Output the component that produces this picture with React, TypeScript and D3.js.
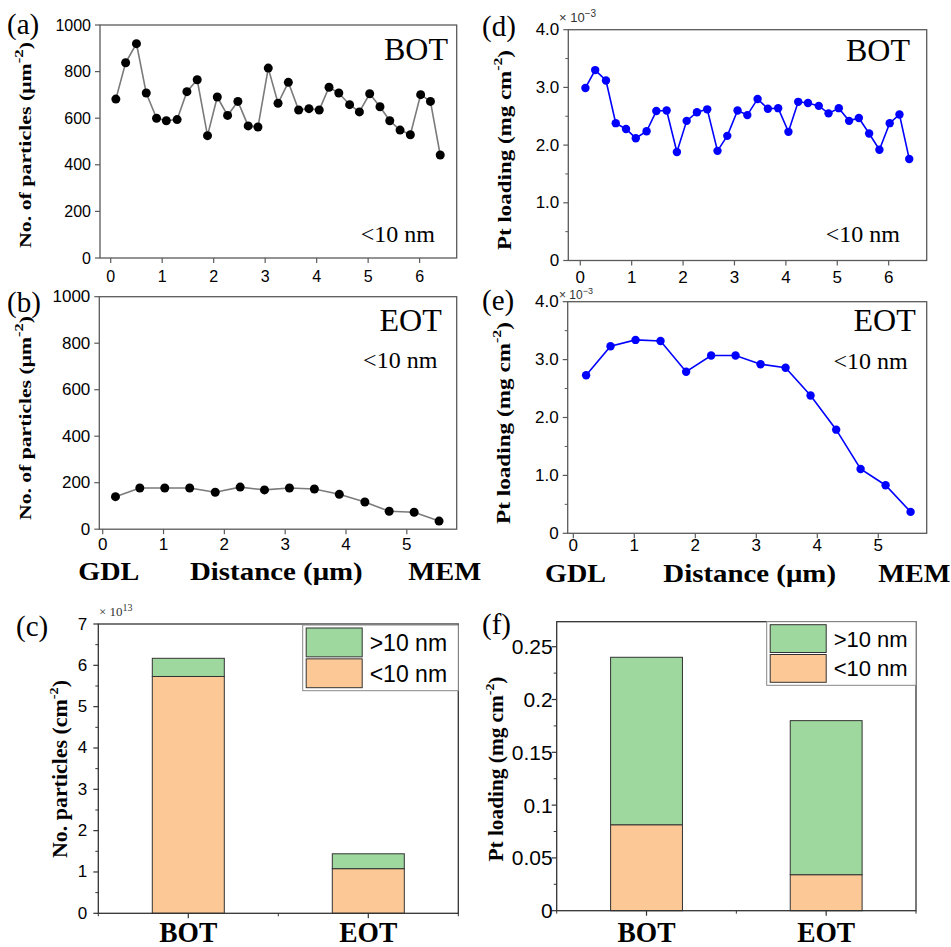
import React from 'react';
import * as d3 from 'd3';

// distances (µm) of the measurement points
const botDistance = [0.10, 0.29, 0.50, 0.69, 0.89, 1.08, 1.29, 1.48, 1.68, 1.88, 2.07, 2.27, 2.47, 2.67, 2.86, 3.06, 3.25, 3.45, 3.65, 3.85, 4.05, 4.24, 4.43, 4.64, 4.83, 5.03, 5.23, 5.42, 5.62, 5.82, 6.02, 6.21, 6.40];
const eotDistance = [0.21, 0.61, 1.02, 1.43, 1.85, 2.26, 2.66, 3.07, 3.48, 3.89, 4.31, 4.71, 5.12, 5.53];

// no. of particles (µm^-2), <10 nm
const botParticles = [682, 838, 920, 708, 600, 589, 594, 714, 765, 525, 691, 612, 672, 567, 562, 815, 664, 754, 635, 641, 635, 733, 708, 658, 627, 705, 649, 589, 549, 529, 701, 672, 442];
const eotParticles = [140, 177, 177, 177, 159, 181, 169, 177, 173, 150, 117, 77, 73, 35];

// Pt loading (x10^-3 mg cm^-2), <10 nm
const botLoading = [2.99, 3.30, 3.12, 2.38, 2.28, 2.12, 2.24, 2.59, 2.60, 1.88, 2.42, 2.57, 2.62, 1.90, 2.16, 2.60, 2.52, 2.80, 2.63, 2.64, 2.23, 2.75, 2.73, 2.68, 2.55, 2.64, 2.42, 2.47, 2.20, 1.92, 2.38, 2.53, 1.76];
const eotLoading = [2.73, 3.23, 3.34, 3.32, 2.79, 3.07, 3.07, 2.92, 2.86, 2.38, 1.79, 1.11, 0.83, 0.37];

// totals per sample
const samples = ['BOT', 'EOT'];
const sizeKeys = ['small', 'large'];
const sizeLabels = { small: '<10 nm', large: '>10 nm' };
const particlesSmall = [5.73, 1.08]; // x10^13 cm^-2
const particlesLarge = [0.44, 0.36];
const loadingSmall = [0.0814, 0.0341]; // mg cm^-2
const loadingLarge = [0.1586, 0.1459];

const sizeColor = { small: '#fcc896', large: '#9ed89e' };

const SANS = '"Liberation Sans", Arial, sans-serif';
const SERIF = '"Liberation Serif", "Times New Roman", serif';

type Frame = { left: number; right: number; top: number; bottom: number };

function VTitle({ x, y, len, size, text }: { x: number; y: number; len: number; size: number; text: React.ReactNode }) {
  return (
    <text transform={`translate(${x},${y}) rotate(-90)`} textAnchor="middle" dominantBaseline="central"
      fontFamily={SERIF} fontWeight="bold" fontSize={size} textLength={len} lengthAdjust="spacingAndGlyphs">
      {text}
    </text>
  );
}

function LinePanel(props: {
  f: Frame; xDomain: [number, number]; yDomain: [number, number];
  xs: number[]; ys: number[]; yTicks: number[]; yMinor: number[]; xTicks: number[];
  fmt: (d: number) => string; line: string; dot: string; lineWidth: number; r: number;
  fontSize: number; labelGap: number; xLabelY: number;
}) {
  const { f } = props;
  const x = d3.scaleLinear().domain(props.xDomain).range([f.left, f.right]);
  const y = d3.scaleLinear().domain(props.yDomain).range([f.bottom, f.top]);
  const path = d3.line<number>().x((d, i) => x(props.xs[i])).y(d => y(d))(props.ys) || '';
  const axis = '#5a5a5a';
  return (
    <g>
      <rect x={f.left} y={f.top} width={f.right - f.left} height={f.bottom - f.top} fill="none" stroke={axis} strokeWidth={1.3} />
      {props.yTicks.map(t => (
        <g key={'y' + t}>
          <line x1={f.left - 5} x2={f.left} y1={y(t)} y2={y(t)} stroke={axis} strokeWidth={1.2} />
          <text x={f.left - props.labelGap} y={y(t)} textAnchor="end" dominantBaseline="central" fontFamily={SANS} fontSize={props.fontSize}>{props.fmt(t)}</text>
        </g>
      ))}
      {props.yMinor.map(t => (
        <line key={'m' + t} x1={f.left - 3} x2={f.left} y1={y(t)} y2={y(t)} stroke={axis} strokeWidth={1} />
      ))}
      {props.xTicks.map(t => (
        <g key={'x' + t}>
          <line x1={x(t)} x2={x(t)} y1={f.bottom} y2={f.bottom + 5} stroke={axis} strokeWidth={1.2} />
          <text x={x(t)} y={props.xLabelY} textAnchor="middle" dominantBaseline="central" fontFamily={SANS} fontSize={props.fontSize}>{t}</text>
        </g>
      ))}
      <path d={path} fill="none" stroke={props.line} strokeWidth={props.lineWidth} />
      {props.ys.map((d, i) => (
        <circle key={i} cx={x(props.xs[i])} cy={y(d)} r={props.r} fill={props.dot} />
      ))}
    </g>
  );
}

function BarPanel(props: {
  f: Frame; yMax: number; small: number[]; large: number[]; yTicks: number[]; yMinor: number[];
  fmt: (d: number) => string; fontSize: number; labelGap: number;
  legend: { x: number; y: number; w: number; h: number; fontSize: number };
}) {
  const { f, legend } = props;
  const x = d3.scaleBand<string>().domain(samples).range([f.left, f.right]).padding(0);
  const y = d3.scaleLinear().domain([0, props.yMax]).range([f.bottom, f.top]);
  const rows = samples.map((s, i) => ({ sample: s, small: props.small[i], large: props.large[i] }));
  const series = d3.stack<any>().keys(sizeKeys)(rows);
  const bw = x.bandwidth() * 0.4;
  const axis = '#333';
  const bandEdges = [f.left, f.left + x.bandwidth(), f.right];
  const sw = 56;
  return (
    <g>
      {series.map(s => s.map((d, i) => (
        <rect key={s.key + i} x={(x(samples[i]) as number) + x.bandwidth() / 2 - bw / 2} y={y(d[1])}
          width={bw} height={y(d[0]) - y(d[1])} fill={(sizeColor as any)[s.key]} stroke="#333" strokeWidth={1} />
      )))}
      <rect x={f.left} y={f.top} width={f.right - f.left} height={f.bottom - f.top} fill="none" stroke={axis} strokeWidth={1.3} />
      {props.yTicks.map(t => (
        <g key={'y' + t}>
          <line x1={f.left - 5} x2={f.left} y1={y(t)} y2={y(t)} stroke={axis} strokeWidth={1.2} />
          <text x={f.left - props.labelGap} y={y(t)} textAnchor="end" dominantBaseline="central" fontFamily={SANS} fontSize={props.fontSize}>{props.fmt(t)}</text>
        </g>
      ))}
      {props.yMinor.map(t => (
        <line key={'m' + t} x1={f.left - 3} x2={f.left} y1={y(t)} y2={y(t)} stroke={axis} strokeWidth={1} />
      ))}
      {samples.map(s => (
        <g key={s}>
          <line x1={(x(s) as number) + x.bandwidth() / 2} x2={(x(s) as number) + x.bandwidth() / 2} y1={f.bottom} y2={f.bottom + 5} stroke={axis} strokeWidth={1.2} />
          <text x={(x(s) as number) + x.bandwidth() / 2} y={942} textAnchor="middle" fontFamily={SERIF} fontWeight="bold"
            fontSize={29} textLength={58} lengthAdjust="spacingAndGlyphs">{s}</text>
        </g>
      ))}
      {bandEdges.map((e, i) => (
        <line key={'b' + i} x1={e} x2={e} y1={f.bottom} y2={f.bottom + 3} stroke={axis} strokeWidth={1} />
      ))}
      <rect x={legend.x} y={legend.y} width={legend.w} height={legend.h} fill="white" stroke="#888" strokeWidth={1} />
      {['large', 'small'].map((k, i) => {
        const rowH = (legend.h - 6) / 2;
        const yy = legend.y + 3 + i * (rowH + 1);
        return (
          <g key={k}>
            <rect x={legend.x + 3.5} y={yy} width={sw} height={rowH - 1} fill={(sizeColor as any)[k]} stroke="#333" strokeWidth={1} />
            <text x={legend.x + sw + 11} y={yy + rowH / 2} dominantBaseline="central" fontFamily={SANS} fontSize={legend.fontSize}>{(sizeLabels as any)[k]}</text>
          </g>
        );
      })}
    </g>
  );
}

const panelLabel = (x: number, y: number, t: string) => (
  <text x={x} y={y} fontFamily={SERIF} fontSize={29}>{t}</text>
);

export default function App() {
  const fA = { left: 100, right: 456.7, top: 25, bottom: 258 };
  const fB = { left: 99.3, right: 456.7, top: 296.7, bottom: 529.2 };
  const fD = { left: 568.3, right: 926.7, top: 29.7, bottom: 260.5 };
  const fE = { left: 567.7, right: 926.7, top: 301.7, bottom: 533.3 };
  const fC = { left: 98.3, right: 458.3, top: 624, bottom: 913.3 };
  const fF = { left: 556.7, right: 916, top: 621.7, bottom: 910.7 };

  const countTicks = [0, 200, 400, 600, 800, 1000];
  const loadTicks = [0, 1, 2, 3, 4];
  const loadMinor = [0.5, 1.5, 2.5, 3.5];
  const fmtLoad = (d: number) => (d === 0 ? '0' : d.toFixed(1));
  const partUnit = <>No. of particles (μm<tspan dy={-7} fontSize={13}>-2</tspan><tspan dy={7}>)</tspan></>;
  const loadUnit = <>Pt loading (mg cm<tspan dy={-7} fontSize={13}>-2</tspan><tspan dy={7}>)</tspan></>;

  return (
    <svg width={951} height={947} style={{ position: 'absolute', left: 0, top: 0, background: 'white' }}>
      <rect width={951} height={947} fill="white" />
      {/* (a) */}
      <LinePanel f={fA} xDomain={[-0.208, 6.72]} yDomain={[0, 1000]} xs={botDistance} ys={botParticles}
        yTicks={countTicks} yMinor={[]} xTicks={[0, 1, 2, 3, 4, 5, 6]} fmt={d => String(d)}
        line="#7a7a7a" dot="#000" lineWidth={1.6} r={4.5} fontSize={16} labelGap={9} xLabelY={276.5} />
      {/* (b) */}
      <LinePanel f={fB} xDomain={[-0.056, 5.82]} yDomain={[0, 1000]} xs={eotDistance} ys={eotParticles}
        yTicks={countTicks} yMinor={[]} xTicks={[0, 1, 2, 3, 4, 5]} fmt={d => String(d)}
        line="#7a7a7a" dot="#000" lineWidth={1.6} r={4.5} fontSize={17} labelGap={9} xLabelY={544} />
      {/* (d) */}
      <LinePanel f={fD} xDomain={[-0.233, 6.74]} yDomain={[0, 4]} xs={botDistance} ys={botLoading}
        yTicks={loadTicks} yMinor={loadMinor} xTicks={[0, 1, 2, 3, 4, 5, 6]} fmt={fmtLoad}
        line="#0000ff" dot="#0000ff" lineWidth={1.6} r={4.2} fontSize={17} labelGap={9} xLabelY={277} />
      {/* (e) */}
      <LinePanel f={fE} xDomain={[-0.092, 5.794]} yDomain={[0, 4]} xs={eotDistance} ys={eotLoading}
        yTicks={loadTicks} yMinor={loadMinor} xTicks={[0, 1, 2, 3, 4, 5]} fmt={fmtLoad}
        line="#0000ff" dot="#0000ff" lineWidth={1.6} r={4.2} fontSize={17} labelGap={9} xLabelY={545} />
      {/* (c) */}
      <BarPanel f={fC} yMax={7} small={particlesSmall} large={particlesLarge}
        yTicks={[0, 1, 2, 3, 4, 5, 6, 7]} yMinor={[0.5, 1.5, 2.5, 3.5, 4.5, 5.5, 6.5]} fmt={d => String(d)}
        fontSize={17} labelGap={11} legend={{ x: 302.7, y: 625, w: 155.6, h: 65.7, fontSize: 23 }} />
      {/* (f) */}
      <BarPanel f={fF} yMax={0.2737} small={loadingSmall} large={loadingLarge}
        yTicks={[0, 0.05, 0.1, 0.15, 0.2, 0.25]} yMinor={[0.025, 0.075, 0.125, 0.175, 0.225]} fmt={d => (d === 0 ? '0' : String(d))}
        fontSize={21} labelGap={4} legend={{ x: 766.7, y: 621.7, w: 149.3, h: 63.6, fontSize: 22 }} />

      {/* panel letters */}
      {panelLabel(7, 34, '(a)')}
      {panelLabel(7, 312, '(b)')}
      {panelLabel(16, 636, '(c)')}
      {panelLabel(482, 36, '(d)')}
      {panelLabel(482, 310, '(e)')}
      {panelLabel(482, 634, '(f)')}

      {/* axis titles */}
      <VTitle x={25} y={145} len={206} size={17} text={partUnit} />
      <VTitle x={25} y={418} len={204} size={17} text={partUnit} />
      <VTitle x={504} y={150} len={200} size={19} text={loadUnit} />
      <VTitle x={503} y={423} len={202} size={19} text={loadUnit} />
      <VTitle x={60} y={769} len={178} size={20} text={<>No. particles (cm<tspan dy={-7} fontSize={13}>-2</tspan><tspan dy={7}>)</tspan></>} />
      <VTitle x={496} y={769} len={185} size={20} text={loadUnit} />

      {/* in-plot annotations */}
      <g fontFamily={SERIF} textAnchor="end">
        <text x={448} y={60} fontSize={32}>BOT</text>
        <text x={435} y={241.7} fontSize={24}>&lt;10 nm</text>
        <text x={910} y={60.7} fontSize={32}>BOT</text>
        <text x={900} y={241.7} fontSize={24}>&lt;10 nm</text>
        <text x={441.7} y={330.7} fontSize={32}>EOT</text>
        <text x={437.3} y={368.3} fontSize={24}>&lt;10 nm</text>
        <text x={915.7} y={330.7} fontSize={32}>EOT</text>
        <text x={907.7} y={369} fontSize={24}>&lt;10 nm</text>
      </g>

      {/* multipliers */}
      <text x={559} y={22} fontFamily={SANS} fontSize={13} fill="#333">× 10<tspan dy={-5} fontSize={10}>−3</tspan></text>
      <text x={559} y={299} fontFamily={SANS} fontSize={12} fill="#333">× 10<tspan dy={-5} fontSize={9}>−3</tspan></text>
      <text x={99} y={616} fontFamily={SERIF} fontSize={13} fill="#333">× 10<tspan dy={-5} fontSize={10}>13</tspan></text>

      {/* distance axis labels */}
      <g fontFamily={SERIF} fontWeight="bold" fontSize={26}>
        <text x={78.3} y={580} textLength={61} lengthAdjust="spacingAndGlyphs">GDL</text>
        <text x={190} y={580} textLength={172.7} lengthAdjust="spacingAndGlyphs">Distance (μm)</text>
        <text x={408.3} y={580} textLength={73} lengthAdjust="spacingAndGlyphs">MEM</text>
        <text x={545} y={582} textLength={61} lengthAdjust="spacingAndGlyphs">GDL</text>
        <text x={663.3} y={582} textLength={172.7} lengthAdjust="spacingAndGlyphs">Distance (μm)</text>
        <text x={878.3} y={582} textLength={72} lengthAdjust="spacingAndGlyphs">MEM</text>
      </g>
    </svg>
  );
}
